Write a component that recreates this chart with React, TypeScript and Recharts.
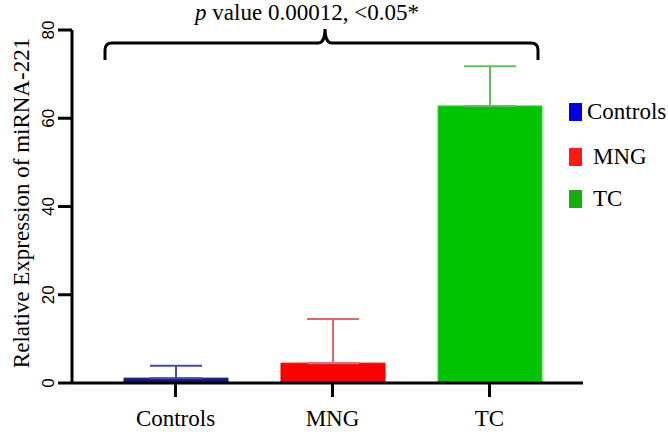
import React from 'react';
import { BarChart, Bar, XAxis, YAxis, ErrorBar, Customized } from 'recharts';

// groups and read-off values
const categories = ['Controls', 'MNG', 'TC'];
const seriesKeys = ['controls', 'mng', 'tc'];
const meanValues = [1.1, 4.5, 62.8];
const upperErrors = [2.8, 10.0, 9.0];
const yTicks = [0, 20, 40, 60, 80];

const barColors = ['#101c80', '#ff0000', '#00c400'];
const barEdges = ['#0a1460', '#e00000', '#3ad03a'];
const errorColors = ['#4a4aa0', '#e06868', '#5cbf5c'];
const legendColors = ['#0000e6', '#ff1a1a', '#10b010'];

const yLabel = 'Relative Expression of miRNA-221';
const serif = 'Liberation Serif';
const sans = 'Liberation Sans';

const data = categories.map((name, i) => ({
    name,
    [seriesKeys[i]]: meanValues[i],
    [seriesKeys[i] + 'Err']: [0, upperErrors[i]],
}));

const XTick = ({ x, y, payload }: { x?: number; y?: number; payload?: { value: string } }) => (
    <text x={x} y={y} dy={27} textAnchor="middle" fontSize={23} fontFamily={serif} fill="#000">
        {payload?.value}
    </text>
);

const YTick = ({ x = 0, y = 0, payload }: { x?: number; y?: number; payload?: { value: number } }) => (
    <text
        transform={`translate(${x - 8},${y}) rotate(-90)`}
        textAnchor="middle"
        dominantBaseline="central"
        fontSize={17}
        fontFamily={sans}
        fill="#000"
    >
        {payload?.value}
    </text>
);

// title, bracket and axis title
const Annotations = () => (
    <g>
        <text
            transform="translate(21,203) rotate(-90)"
            textAnchor="middle"
            dominantBaseline="central"
            fontSize={23}
            fontFamily={serif}
            fill="#000"
        >
            {yLabel}
        </text>
        <text x={307} y={20} textAnchor="middle" fontSize={23} fontFamily={serif} fill="#000">
            <tspan fontStyle="italic">p</tspan> value 0.00012, &lt;0.05*
        </text>
        <path
            d="M105,60 L105,50 Q105,43 112,43 L318,43 Q325,43 325,29 Q325,43 332,43 L531,43 Q538,43 538,50 L538,60"
            fill="none"
            stroke="#000"
            strokeWidth={3}
        />
    </g>
);

const legendTops = [112, 157, 199];
const legendTextLeft = [587, 593, 593];

export default function App() {
    return (
        <div style={{ position: 'absolute', left: 0, top: 0, width: 668, height: 432, background: '#fff' }}>
            <BarChart
                width={668}
                height={432}
                data={data}
                margin={{ top: 30, right: 85, bottom: 0, left: 0 }}
                barSize={104}
            >
                <XAxis
                    dataKey="name"
                    height={49}
                    interval={0}
                    padding={{ left: 25, right: 15 }}
                    axisLine={{ stroke: '#000', strokeWidth: 3 }}
                    tickLine={{ stroke: '#000', strokeWidth: 3 }}
                    tickSize={14}
                    tick={<XTick />}
                />
                <YAxis
                    width={72}
                    domain={[0, 80]}
                    ticks={yTicks}
                    interval={0}
                    axisLine={{ stroke: '#000', strokeWidth: 3 }}
                    tickLine={{ stroke: '#000', strokeWidth: 3 }}
                    tickSize={14}
                    tick={<YTick />}
                />
                {seriesKeys.map((k, i) => (
                    <Bar
                        key={k}
                        dataKey={k}
                        stackId="g"
                        fill={barColors[i]}
                        stroke={barEdges[i]}
                        strokeWidth={1}
                        isAnimationActive={false}
                    >
                        <ErrorBar
                            dataKey={k + 'Err'}
                            direction="y"
                            width={26}
                            stroke={errorColors[i]}
                            strokeWidth={2}
                            isAnimationActive={false}
                        />
                    </Bar>
                ))}
                <Customized component={<Annotations />} />
            </BarChart>
            {categories.map((c, i) => (
                <React.Fragment key={c}>
                    <div
                        style={{
                            position: 'absolute',
                            left: 569,
                            top: legendTops[i] - 9,
                            width: 13,
                            height: 18,
                            background: legendColors[i],
                        }}
                    />
                    <div
                        style={{
                            position: 'absolute',
                            left: legendTextLeft[i],
                            top: legendTops[i] - 14,
                            height: 28,
                            lineHeight: '28px',
                            fontSize: 23,
                            fontFamily: serif,
                            color: '#000',
                            whiteSpace: 'nowrap',
                        }}
                    >
                        {c}
                    </div>
                </React.Fragment>
            ))}
        </div>
    );
}
